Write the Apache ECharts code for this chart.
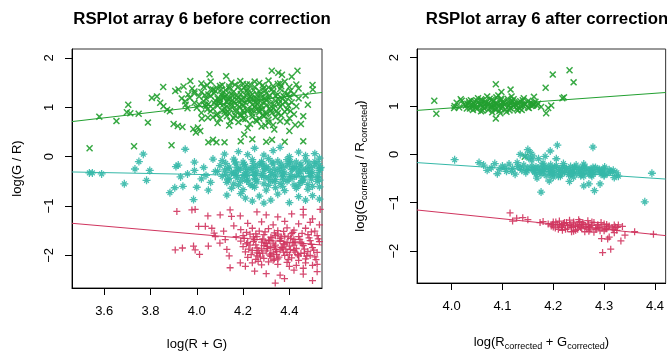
<!DOCTYPE html>
<html>
<head>
<meta charset="utf-8">
<script src="https://cdn.jsdelivr.net/npm/echarts@6/dist/echarts.min.js"></script>
<style>
  html, body { margin: 0; padding: 0; background: #fff; }
  #chart { width: 667px; height: 356px; }
</style>
</head>
<body>
<div id="chart"></div>
<script>
// tick labels
var xTicksBefore = [3.6, 3.8, 4.0, 4.2, 4.4];
var xTicksAfter = [4.0, 4.1, 4.2, 4.3, 4.4];
var yTicks = [-2, -1, 0, 1, 2];

// before correction: [log(R+G), log(G/R)]
var greenBefore = [
  [3.537,0.17],[3.579,0.81],[3.653,0.72],[3.704,1.05],[3.698,0.90],[3.713,0.88],[3.749,0.87],[3.729,0.21],
  [3.789,0.69],[3.806,1.19],[3.828,1.22],[3.842,1.09],[3.856,1.02],[3.855,1.41],[3.891,0.23],[3.872,0.95],
  [3.884,0.92],[3.900,0.66],[3.918,0.62],[3.938,0.60],[3.907,1.33],[3.921,1.36],[3.943,1.42],[3.935,1.18],
  [3.952,1.05],[3.963,1.26],[3.972,1.53],[3.985,0.56],[4.005,0.59],[3.996,0.49],[4.015,0.52],[4.022,0.77],
  [4.048,0.79],[4.055,1.67],[4.050,0.29],[4.070,0.34],[4.085,0.29],[4.120,0.29],[4.127,1.63],[4.188,1.53],
  [4.216,1.46],[4.190,0.31],[4.205,0.45],[4.220,0.58],[4.240,0.35],[4.250,1.52],[4.296,0.63],[4.300,0.30],
  [4.325,0.34],[4.335,0.55],[4.360,0.72],[4.380,0.30],[4.400,0.52],[4.425,0.64],[4.460,0.31],[4.324,1.74],
  [4.352,1.70],[4.368,1.66],[4.435,1.74],[4.410,1.62],[4.501,1.36],
  [4.02,1.48],[4.06,1.52],[4.11,1.45],[4.15,1.50],[4.20,1.47],[4.27,1.49],[4.31,1.54],[4.35,1.47],[4.38,1.52],[4.43,1.46],
  [3.98,1.38],[4.03,1.41],[4.07,1.36],[4.10,1.43],[4.14,1.38],[4.18,1.42],[4.22,1.37],[4.25,1.41],[4.29,1.39],[4.33,1.43],
  [4.36,1.37],[4.40,1.41],[4.44,1.38],
  [3.99,1.28],[4.02,1.31],[4.05,1.26],[4.08,1.33],[4.11,1.29],[4.13,1.25],[4.16,1.32],[4.19,1.27],[4.22,1.30],[4.24,1.26],
  [4.27,1.33],[4.30,1.28],[4.33,1.31],[4.35,1.26],[4.38,1.30],[4.42,1.27],
  [3.97,1.19],[4.01,1.22],[4.04,1.17],[4.06,1.23],[4.09,1.18],[4.12,1.21],[4.14,1.16],[4.17,1.23],[4.20,1.19],[4.23,1.22],
  [4.25,1.16],[4.28,1.21],[4.31,1.18],[4.34,1.23],[4.37,1.17],[4.40,1.21],[4.44,1.18],
  [3.99,1.09],[4.03,1.12],[4.05,1.06],[4.08,1.13],[4.10,1.08],[4.13,1.11],[4.15,1.06],[4.18,1.13],[4.21,1.09],[4.23,1.12],
  [4.26,1.07],[4.29,1.11],[4.32,1.08],[4.34,1.13],[4.37,1.06],[4.41,1.10],
  [4.00,0.99],[4.04,1.02],[4.07,0.97],[4.09,1.03],[4.12,0.98],[4.15,1.01],[4.17,0.96],[4.20,1.02],[4.22,0.97],[4.25,1.00],
  [4.28,0.96],[4.30,1.03],[4.33,0.98],[4.36,1.01],[4.39,0.96],[4.43,1.02],
  [4.02,0.89],[4.06,0.92],[4.09,0.87],[4.11,0.93],[4.14,0.88],[4.17,0.91],[4.19,0.86],[4.22,0.92],[4.24,0.87],[4.27,0.90],
  [4.30,0.86],[4.32,0.93],[4.35,0.88],[4.38,0.91],[4.42,0.86],
  [4.07,0.80],[4.10,0.77],[4.13,0.82],[4.16,0.78],[4.19,0.83],[4.21,0.76],[4.24,0.81],[4.27,0.77],[4.29,0.82],[4.31,0.75],
  [4.34,0.80],[4.40,0.78],
  [4.09,0.68],[4.14,0.63],[4.18,0.70],[4.23,0.66],[4.26,0.72],[4.28,0.61],[4.31,0.69],[4.33,0.64],[4.39,0.70],[4.45,0.66],
  [4.10,1.16],[4.13,1.02],[4.16,1.10],[4.18,1.20],[4.20,0.94],[4.22,1.15],[4.24,1.05],[4.26,1.25],[4.28,1.03],[4.30,1.14],
  [4.15,1.28],[4.12,0.92],[4.27,0.94],[4.11,1.24],[4.19,1.34],[3.95,1.12],[3.96,0.98],[3.99,1.32],[4.01,1.06],
  [4.47,1.24],[4.50,1.45],[4.48,1.05],[4.46,0.82],
  [4.045,1.445],[4.085,1.40],[4.125,1.345],[4.165,1.455],[4.205,1.395],[4.245,1.345],[4.285,1.445],[4.325,1.365],[4.365,1.425],[4.405,1.335],
  [4.035,1.245],[4.075,1.285],[4.115,1.195],[4.155,1.225],[4.195,1.145],[4.235,1.185],[4.275,1.275],[4.315,1.235],[4.355,1.155],[4.395,1.265],
  [4.035,1.045],[4.075,1.085],[4.115,1.055],[4.155,1.145],[4.195,1.065],[4.235,0.945],[4.275,1.125],[4.315,0.985],[4.355,1.075],[4.395,1.035],
  [4.045,0.955],[4.085,0.845],[4.125,0.885],[4.165,0.835],[4.205,0.885],[4.245,0.935],[4.285,0.845],[4.325,0.885],[4.365,0.835],[4.405,0.925],
  [4.145,0.72],[4.20,0.77],[4.255,0.74],[4.30,0.90],[4.06,1.36],[4.23,1.46],[4.36,1.48],[4.14,1.42],[4.31,1.40],[4.26,1.17],
  [4.095,1.115],[4.135,1.175],[4.175,1.045],[4.215,1.235],[4.255,1.095],[4.295,1.185],[4.335,1.045],[4.375,1.225],
  [4.145,0.955],[4.185,0.995],[4.265,0.985],[4.345,0.925],[4.215,1.325],[4.295,1.335],[4.105,1.355],[4.385,1.115]
];
var tealBefore = [
  [3.536,-0.33],[3.549,-0.33],[3.589,-0.35],[3.687,-0.55],[3.733,-0.25],[3.750,-0.10],[3.769,0.05],[3.783,-0.48],
  [3.797,-0.28],[3.884,-0.73],[3.905,-0.63],[3.920,-0.17],[3.95,0.15],[3.93,-0.41],[3.91,-0.20],[3.94,-0.60],
  [3.99,-0.11],[3.99,-0.28],[4.02,-0.45],[4.04,-0.38],[4.00,-0.62],[4.05,-0.68],[3.986,-0.87],[3.96,-0.35],
  [4.03,-0.22],[4.06,-0.52],[4.07,-0.05],[4.08,-0.30],
  [4.12,0.05],[4.18,0.10],[4.25,0.17],[4.33,0.12],[4.36,0.19],[4.44,0.09],[4.47,0.02],[4.22,0.04],[4.29,0.03],[4.40,0.00],[4.51,0.06],
  [4.13,-0.78],[4.19,-0.75],[4.24,-0.90],[4.27,-0.80],[4.32,-0.88],[4.35,-0.76],[4.40,-0.93],[4.44,-0.81],[4.47,-0.88],
  [4.50,-0.79],[4.53,-0.86],[4.29,-0.94],[4.21,-0.84],
  [4.11,-0.08],[4.16,-0.05],[4.20,-0.11],[4.24,-0.06],[4.28,-0.10],[4.31,-0.04],[4.35,-0.09],[4.39,-0.06],[4.43,-0.11],
  [4.47,-0.07],[4.51,-0.10],[4.53,-0.03],
  [4.10,-0.18],[4.14,-0.21],[4.17,-0.15],[4.21,-0.19],[4.24,-0.22],[4.27,-0.16],[4.30,-0.20],[4.33,-0.15],[4.36,-0.21],
  [4.39,-0.17],[4.42,-0.20],[4.45,-0.15],[4.48,-0.21],[4.51,-0.17],[4.535,-0.22],
  [4.09,-0.30],[4.12,-0.27],[4.15,-0.32],[4.18,-0.28],[4.21,-0.33],[4.23,-0.26],[4.26,-0.31],[4.29,-0.27],[4.32,-0.32],
  [4.35,-0.28],[4.38,-0.33],[4.41,-0.26],[4.44,-0.31],[4.47,-0.27],[4.50,-0.32],[4.53,-0.28],
  [4.11,-0.40],[4.14,-0.44],[4.17,-0.38],[4.20,-0.42],[4.22,-0.37],[4.25,-0.44],[4.28,-0.39],[4.31,-0.43],[4.34,-0.37],
  [4.37,-0.41],[4.40,-0.45],[4.43,-0.39],[4.46,-0.43],[4.49,-0.38],[4.52,-0.42],
  [4.13,-0.52],[4.16,-0.55],[4.19,-0.50],[4.23,-0.56],[4.26,-0.51],[4.29,-0.55],[4.32,-0.49],[4.36,-0.54],[4.39,-0.50],
  [4.42,-0.57],[4.45,-0.52],[4.48,-0.56],[4.52,-0.50],
  [4.15,-0.64],[4.20,-0.67],[4.25,-0.62],[4.30,-0.68],[4.34,-0.63],[4.38,-0.69],[4.43,-0.64],[4.48,-0.66],[4.53,-0.61],
  [4.19,-0.24],[4.25,-0.36],[4.31,-0.25],[4.37,-0.35],[4.43,-0.24],[4.49,-0.34],[4.22,-0.47],[4.34,-0.46],[4.46,-0.47],
  [4.28,-0.13],[4.40,-0.13],[4.16,-0.35],
  [4.125,-0.135],[4.165,-0.105],[4.205,-0.155],[4.245,-0.135],[4.285,-0.175],[4.325,-0.105],[4.365,-0.145],[4.405,-0.095],
  [4.445,-0.185],[4.485,-0.125],[4.525,-0.135],
  [4.135,-0.245],[4.175,-0.225],[4.215,-0.265],[4.255,-0.215],[4.295,-0.235],[4.335,-0.255],[4.375,-0.225],[4.415,-0.235],
  [4.455,-0.255],[4.495,-0.215],[4.530,-0.245],
  [4.125,-0.355],[4.165,-0.315],[4.205,-0.365],[4.245,-0.325],[4.285,-0.345],[4.325,-0.365],[4.365,-0.305],[4.405,-0.365],
  [4.445,-0.345],[4.485,-0.305],[4.525,-0.355],
  [4.135,-0.465],[4.175,-0.435],[4.215,-0.485],[4.255,-0.465],[4.295,-0.425],[4.335,-0.505],[4.375,-0.465],[4.415,-0.425],
  [4.455,-0.485],[4.495,-0.455],[4.530,-0.475],
  [4.18,-0.58],[4.24,-0.59],[4.31,-0.58],[4.37,-0.60],[4.44,-0.58],[4.50,-0.60]
];
var redBefore = [
  [3.914,-1.11],[3.979,-1.08],[3.993,-1.07],[3.907,-1.89],[3.938,-1.85],[3.986,-1.81],[3.993,-1.89],[4.012,-1.98],
  [4.008,-1.41],[4.037,-1.41],[4.05,-1.81],[4.065,-1.45],[4.075,-1.55],[4.048,-1.20],[4.101,-1.18],[4.116,-1.51],
  [4.123,-1.68],[4.144,-1.08],[4.15,-1.21],[4.188,-1.20],[4.10,-1.75],[4.13,-1.88],[4.14,-2.01],[4.144,-2.25],
  [4.188,-2.15],[4.08,-1.62],[4.16,-1.40],[4.17,-1.62],[4.26,-1.12],[4.30,-1.18],[4.35,-1.22],[4.41,-1.16],
  [4.46,-1.07],[4.46,-1.18],[4.533,-1.07],[4.50,-1.26],[4.339,-2.56],[4.379,-2.47],[4.50,-2.51],[4.25,-2.32],
  [4.30,-2.37],[4.42,-2.30],[4.46,-2.38],[4.52,-2.33],[4.21,-2.22],[4.36,-2.40],
  [4.22,-1.35],[4.28,-1.32],[4.33,-1.38],[4.38,-1.31],[4.44,-1.36],[4.49,-1.33],[4.53,-1.38],
  [4.19,-1.48],[4.24,-1.45],[4.27,-1.51],[4.31,-1.46],[4.35,-1.50],[4.39,-1.44],[4.42,-1.49],[4.47,-1.45],[4.51,-1.51],
  [4.20,-1.60],[4.23,-1.57],[4.26,-1.62],[4.29,-1.58],[4.32,-1.63],[4.35,-1.57],[4.38,-1.61],[4.41,-1.56],[4.44,-1.62],
  [4.48,-1.58],[4.52,-1.60],
  [4.19,-1.71],[4.22,-1.74],[4.25,-1.68],[4.28,-1.73],[4.31,-1.69],[4.33,-1.75],[4.36,-1.70],[4.39,-1.74],[4.42,-1.68],
  [4.45,-1.73],[4.49,-1.70],[4.53,-1.72],
  [4.20,-1.82],[4.23,-1.79],[4.26,-1.85],[4.29,-1.80],[4.32,-1.84],[4.34,-1.79],[4.37,-1.85],[4.40,-1.81],[4.43,-1.86],
  [4.46,-1.80],[4.50,-1.84],
  [4.21,-1.93],[4.24,-1.90],[4.27,-1.96],[4.30,-1.91],[4.33,-1.95],[4.36,-1.89],[4.39,-1.94],[4.42,-1.90],[4.45,-1.96],
  [4.48,-1.92],[4.52,-1.94],
  [4.22,-2.04],[4.26,-2.01],[4.29,-2.06],[4.32,-2.02],[4.35,-2.07],[4.38,-2.00],[4.41,-2.05],[4.44,-2.01],[4.47,-2.07],[4.51,-2.03],
  [4.24,-2.15],[4.28,-2.19],[4.31,-2.13],[4.35,-2.18],[4.39,-2.14],[4.43,-2.20],[4.47,-2.15],[4.52,-2.18],
  [4.30,-1.76],[4.34,-1.88],[4.38,-1.77],[4.32,-1.97],[4.36,-1.66],[4.40,-1.99],[4.28,-1.87],[4.42,-1.79],[4.26,-1.95],[4.34,-1.60],
  [4.215,-1.535],[4.255,-1.565],[4.295,-1.525],[4.335,-1.545],[4.375,-1.515],[4.415,-1.535],[4.455,-1.555],[4.495,-1.525],
  [4.205,-1.655],[4.245,-1.625],[4.285,-1.665],[4.325,-1.645],[4.365,-1.625],[4.405,-1.655],[4.445,-1.675],[4.485,-1.645],[4.525,-1.665],
  [4.215,-1.765],[4.255,-1.785],[4.295,-1.745],[4.335,-1.825],[4.375,-1.765],[4.415,-1.745],[4.455,-1.765],[4.495,-1.775],
  [4.225,-1.875],[4.265,-1.905],[4.305,-1.865],[4.345,-1.925],[4.385,-1.875],[4.425,-1.935],[4.465,-1.875],[4.505,-1.895],
  [4.235,-1.985],[4.275,-2.035],[4.315,-1.995],[4.355,-2.035],[4.395,-2.085],[4.435,-1.985],[4.475,-2.015],[4.515,-2.085],
  [4.265,-2.12],[4.33,-2.10],[4.40,-2.22],[4.46,-2.26],[4.50,-2.20],
  [4.245,-1.715],[4.305,-1.815],[4.365,-1.835],[4.425,-1.725],[4.285,-1.955],[4.345,-1.985],[4.405,-1.885],[4.465,-1.955],
  [4.315,-1.705],[4.375,-1.935],[4.395,-1.625],[4.335,-2.075],[4.255,-2.08],[4.44,-2.10],[4.49,-2.00]
];

// after correction
var greenAfter = [
  [3.966,1.11],[3.970,0.84],[4.087,1.45],[4.087,0.74],[4.116,1.34],[4.098,1.29],[4.185,1.38],[4.199,1.65],[4.232,1.74],
  [4.240,1.49],[4.186,0.85],[4.196,1.01],[4.190,0.96],[4.162,1.19],[4.162,1.03],[4.218,1.16],[4.221,1.18],[4.144,-0.05],
  [4.006,1.00],[4.010,1.07],[4.015,0.97],[4.020,1.11],[4.024,1.03],[4.030,0.95],[4.005,0.96],[4.018,1.14],
  [4.035,1.06],[4.040,0.99],[4.045,1.10],[4.050,0.94],[4.055,1.04],[4.060,1.12],[4.062,0.98],[4.068,1.07],[4.072,0.92],
  [4.075,1.15],[4.078,1.01],[4.082,1.09],[4.085,0.95],[4.088,1.18],[4.090,1.04],[4.094,0.90],[4.097,1.12],[4.100,0.99],
  [4.103,1.07],[4.106,0.93],[4.110,1.15],[4.113,1.02],[4.116,0.96],[4.120,1.10],[4.124,1.05],[4.128,0.94],[4.132,1.08],
  [4.136,1.00],[4.140,1.12],[4.145,1.03],[4.150,0.97],[4.155,1.07],[4.160,1.01],[4.165,1.09],[4.052,1.16],[4.058,0.89],
  [4.080,0.87],[4.092,1.22],[4.096,0.85],[4.070,1.20],[4.118,1.20],[4.108,0.88],[4.130,0.91],[4.142,1.16],[4.065,1.02],
  [4.086,1.06],[4.104,1.03],[4.122,1.00],[4.077,0.97],[4.093,1.00],[4.112,1.09],[4.047,1.02],[4.170,1.05],[4.176,0.98],
  [4.038,1.12],[4.042,0.92],
  [4.036,0.95],[4.048,0.96],[4.064,0.95],[4.081,0.96],[4.098,0.95],[4.115,0.96],[4.134,0.95],[4.152,0.96],
  [4.028,1.01],[4.044,1.00],[4.057,1.01],[4.071,1.00],[4.084,1.01],[4.099,1.00],[4.113,1.01],[4.127,1.00],[4.141,1.01],
  [4.157,1.00],[4.168,1.01],
  [4.031,1.05],[4.043,1.06],[4.058,1.05],[4.073,1.06],[4.088,1.05],[4.101,1.06],[4.116,1.05],[4.129,1.06],[4.143,1.05],[4.158,1.06],
  [4.034,1.10],[4.050,1.11],[4.066,1.10],[4.083,1.11],[4.101,1.10],[4.118,1.11],[4.135,1.10],[4.151,1.11],
  [4.058,1.14],[4.079,1.13],[4.097,1.15],[4.122,1.14],[4.061,0.91],[4.087,0.92],[4.114,0.91],[4.138,0.92]
];
var tealAfter = [
  [4.006,-0.11],[4.054,-0.17],[4.129,-0.17],[4.150,0.10],[4.155,0.04],[4.160,-0.03],[4.158,-0.12],[4.152,-0.08],
  [4.184,-0.04],[4.194,0.07],[4.208,0.19],[4.206,-0.09],[4.278,0.15],[4.176,-0.78],[4.192,-0.55],[4.260,-0.65],
  [4.270,-0.61],[4.281,-0.75],[4.292,-0.61],[4.320,-0.48],[4.328,-0.45],[4.380,-0.98],[4.394,-0.39],[4.232,-0.56],
  [4.300,-0.42],[4.145,-0.03],[4.135,0.00],[4.171,-0.09],
  [4.063,-0.22],[4.078,-0.28],[4.085,-0.19],[4.095,-0.31],[4.100,-0.24],[4.108,-0.35],[4.113,-0.20],[4.120,-0.29],
  [4.125,-0.41],[4.130,-0.25],[4.138,-0.33],[4.142,-0.22],[4.146,-0.38],[4.150,-0.28],[4.090,-0.40],[4.070,-0.33],
  [4.158,-0.24],[4.162,-0.33],[4.166,-0.41],[4.170,-0.28],[4.174,-0.37],[4.178,-0.22],[4.182,-0.31],[4.186,-0.44],
  [4.190,-0.26],[4.194,-0.35],[4.198,-0.29],[4.202,-0.40],[4.206,-0.23],[4.210,-0.33],[4.214,-0.45],[4.218,-0.27],
  [4.222,-0.37],[4.226,-0.30],[4.230,-0.42],[4.234,-0.25],[4.238,-0.34],[4.242,-0.28],[4.246,-0.39],[4.250,-0.31],
  [4.254,-0.44],[4.258,-0.26],[4.262,-0.36],[4.266,-0.30],[4.270,-0.41],[4.274,-0.33],[4.278,-0.27],[4.282,-0.38],
  [4.288,-0.31],[4.294,-0.36],[4.300,-0.30],[4.306,-0.40],[4.312,-0.35],[4.318,-0.33],[4.325,-0.38],[4.200,-0.47],
  [4.240,-0.47],[4.180,-0.18],[4.220,-0.19],[4.260,-0.20],[4.168,-0.49],[4.196,-0.38],[4.236,-0.40],[4.276,-0.45],
  [4.166,-0.26],[4.184,-0.26],[4.203,-0.27],[4.222,-0.26],[4.241,-0.27],[4.262,-0.26],[4.283,-0.27],[4.301,-0.26],
  [4.158,-0.31],[4.176,-0.31],[4.193,-0.32],[4.212,-0.31],[4.231,-0.32],[4.252,-0.31],[4.272,-0.32],[4.291,-0.31],[4.310,-0.32],
  [4.163,-0.36],[4.181,-0.36],[4.199,-0.37],[4.218,-0.36],[4.237,-0.37],[4.257,-0.36],[4.277,-0.37],[4.296,-0.36],[4.316,-0.37],
  [4.176,-0.41],[4.195,-0.42],[4.215,-0.41],[4.234,-0.42],[4.255,-0.41],[4.275,-0.42],[4.294,-0.41],
  [4.195,-0.215],[4.245,-0.22],[4.210,-0.45],[4.260,-0.45],[4.300,-0.44],
  [4.105,-0.28],[4.118,-0.35],[4.135,-0.27],[4.148,-0.33]
];
var redAfter = [
  [4.115,-1.21],[4.120,-1.38],[4.128,-1.32],[4.140,-1.31],[4.150,-1.35],[4.174,-1.41],[4.180,-1.39],[4.297,-2.03],
  [4.313,-1.96],[4.333,-1.79],[4.307,-1.75],[4.310,-1.71],[4.295,-1.74],[4.341,-1.67],[4.360,-1.60],[4.397,-1.65],
  [4.336,-1.49],[4.325,-1.57],[4.320,-1.62],
  [4.190,-1.44],[4.196,-1.48],[4.200,-1.40],[4.204,-1.52],[4.208,-1.45],[4.212,-1.38],[4.216,-1.50],[4.220,-1.43],
  [4.224,-1.55],[4.228,-1.47],[4.232,-1.36],[4.236,-1.51],[4.240,-1.42],[4.244,-1.57],[4.248,-1.46],[4.252,-1.39],
  [4.256,-1.53],[4.260,-1.44],[4.264,-1.49],[4.268,-1.37],[4.272,-1.56],[4.276,-1.47],[4.280,-1.41],[4.284,-1.52],
  [4.288,-1.46],[4.292,-1.58],[4.296,-1.50],[4.300,-1.44],[4.305,-1.54],[4.310,-1.48],[4.316,-1.52],[4.322,-1.50],
  [4.328,-1.46],[4.250,-1.35],[4.236,-1.60],[4.262,-1.60],[4.280,-1.61],[4.218,-1.57],[4.244,-1.48],[4.226,-1.41],
  [4.270,-1.50],[4.212,-1.46],[4.256,-1.45],
  [4.205,-1.40],[4.222,-1.41],[4.240,-1.40],[4.258,-1.41],[4.276,-1.40],[4.294,-1.41],
  [4.198,-1.45],[4.216,-1.46],[4.233,-1.45],[4.251,-1.46],[4.269,-1.45],[4.287,-1.46],[4.305,-1.45],[4.320,-1.46],
  [4.200,-1.50],[4.218,-1.51],[4.236,-1.50],[4.254,-1.51],[4.272,-1.50],[4.290,-1.51],[4.308,-1.50],[4.326,-1.51],
  [4.210,-1.55],[4.228,-1.54],[4.248,-1.55],[4.266,-1.54],[4.284,-1.55],[4.302,-1.54],[4.318,-1.55],
  [4.240,-1.59],[4.270,-1.59],[4.300,-1.58]
];

// fitted lines (endpoints at the plot edges)
var greenFitBefore = [[3.461, 0.71], [4.541, 1.30]];
var tealFitBefore = [[3.461, -0.31], [4.541, -0.41]];
var redFitBefore = [[3.461, -1.35], [4.541, -1.79]];
var greenFitAfter = [[3.932, 0.91], [4.421, 1.28]];
var tealFitAfter = [[3.932, -0.17], [4.421, -0.51]];
var redFitAfter = [[3.932, -1.15], [4.421, -1.68]];

var GREEN = '#22a030';
var TEAL = '#35b8a8';
var RED = '#d0345e';
var FONT = 'Liberation Sans, Arial, sans-serif';

var xMark = 'path://M0,1.5L1.5,0L5,3.5L8.5,0L10,1.5L6.5,5L10,8.5L8.5,10L5,6.5L1.5,10L0,8.5L3.5,5Z';
var plusMark = 'path://M4.1,0L5.9,0L5.9,4.1L10,4.1L10,5.9L5.9,5.9L5.9,10L4.1,10L4.1,5.9L0,5.9L0,4.1L4.1,4.1Z';
var starMark = 'path://M4.2,0L5.8,0L5.8,4.2L10,4.2L10,5.8L5.8,5.8L5.8,10L4.2,10L4.2,5.8L0,5.8L0,4.2L4.2,4.2Z' +
  'M1.46,2.6L2.6,1.46L5,3.86L7.4,1.46L8.54,2.6L6.14,5L8.54,7.4L7.4,8.54L5,6.14L2.6,8.54L1.46,7.4L3.86,5Z';

function minus (v) {
  return v < 0 ? '\u2212' + Math.abs(v) : String(v)
}

function xAxisOf (grid, min, max, ticks, name, rich) {
  return {
    gridIndex: grid, type: 'value', min: min, max: max,
    axisLine: {onZero: false, lineStyle: {color: '#000', width: 1}},
    axisTick: {customValues: ticks, length: 7, lineStyle: {color: '#000'}},
    axisLabel: {customValues: ticks, formatter: function (v) { return v.toFixed(1) },
      color: '#000', fontSize: 13, fontFamily: FONT, margin: 17},
    splitLine: {show: false},
    name: name, nameLocation: 'middle', nameGap: 50,
    nameTextStyle: {color: '#000', fontSize: 13, fontFamily: FONT, rich: rich}
  }
}

function yAxisOf (grid, name, rich) {
  return {
    gridIndex: grid, type: 'value', min: -2.66, max: 2.18,
    axisLine: {onZero: false, lineStyle: {color: '#000', width: 1}},
    axisTick: {customValues: yTicks, length: 7, lineStyle: {color: '#000'}},
    axisLabel: {customValues: yTicks, formatter: minus, rotate: 90,
      color: '#000', fontSize: 13, fontFamily: FONT, margin: 16},
    splitLine: {show: false},
    name: name, nameLocation: 'middle', nameGap: 48, nameRotate: 90,
    nameTextStyle: {color: '#000', fontSize: 13, fontFamily: FONT, rich: rich}
  }
}

var subRich = {
  n: {fontSize: 13, fontFamily: FONT, color: '#000', lineHeight: 18},
  s: {fontSize: 9, fontFamily: FONT, color: '#000', lineHeight: 8, verticalAlign: 'bottom'}
};

function pts (data, grid, mark, color, size) {
  return {type: 'scatter', xAxisIndex: grid, yAxisIndex: grid, data: data, symbol: mark,
    symbolSize: size, itemStyle: {color: color, opacity: 0.9}, silent: true}
}
function fit (data, grid, color) {
  return {type: 'line', xAxisIndex: grid, yAxisIndex: grid, data: data, showSymbol: false,
    lineStyle: {color: color, width: 1}, silent: true, z: 3}
}

var chart = echarts.init(document.getElementById('chart'), null, {renderer: 'canvas'});
chart.setOption({
  animation: false,
  backgroundColor: '#fff',
  title: [
    {text: 'RSPlot array 6 before correction', left: 197, top: 6, textAlign: 'center',
      textStyle: {fontSize: 16.8, fontWeight: 'bold', color: '#000', fontFamily: FONT}},
    {text: 'RSPlot array 6 after correction', left: 542, top: 6, textAlign: 'center',
      textStyle: {fontSize: 16.8, fontWeight: 'bold', color: '#000', fontFamily: FONT}}
  ],
  grid: [
    {left: 72, top: 49, width: 250, height: 242, show: true, borderColor: '#333', borderWidth: 1},
    {left: 417, top: 49, width: 252, height: 242, show: true, borderColor: '#333', borderWidth: 1}
  ],
  xAxis: [
    xAxisOf(0, 3.461, 4.541, xTicksBefore, 'log(R + G)'),
    xAxisOf(1, 3.932, 4.421, xTicksAfter, '{n|log(R}{s|corrected}{n| + G}{s|corrected}{n|)}', subRich)
  ],
  yAxis: [
    yAxisOf(0, 'log(G / R)'),
    yAxisOf(1, '{n|log(G}{s|corrected}{n| / R}{s|corrected}{n|)}', subRich)
  ],
  series: [
    fit(greenFitBefore, 0, GREEN), fit(tealFitBefore, 0, TEAL), fit(redFitBefore, 0, RED),
    pts(greenBefore, 0, xMark, GREEN, 7), pts(tealBefore, 0, starMark, TEAL, 8), pts(redBefore, 0, plusMark, RED, 7),
    fit(greenFitAfter, 1, GREEN), fit(tealFitAfter, 1, TEAL), fit(redFitAfter, 1, RED),
    pts(greenAfter, 1, xMark, GREEN, 7), pts(tealAfter, 1, starMark, TEAL, 8), pts(redAfter, 1, plusMark, RED, 7)
  ]
});
</script>
</body>
</html>
